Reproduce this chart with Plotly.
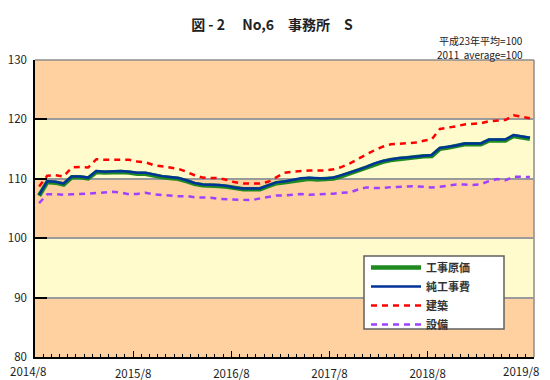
import plotly.graph_objects as go

# ---------------- data ----------------
months = [f"{2014 + (7 + i) // 12}/{(7 + i) % 12 + 1}" for i in range(61)]  # 2014/8 ... 2019/8

koji_genka = [  # 工事原価
    107.15, 109.45, 109.35, 109.05, 110.25, 110.25, 110.05, 111.15, 111.05, 111.15,
    111.15, 111.05, 110.85, 110.85, 110.55, 110.3, 110.15, 110.0, 109.6, 109.15,
    108.9, 108.9, 108.8, 108.65, 108.35, 108.23, 108.23, 108.25, 108.75, 109.25,
    109.4, 109.65, 109.95, 110.02, 109.9, 109.9, 110.05, 110.45, 110.95, 111.35,
    111.85, 112.45, 112.85, 113.15, 113.35, 113.45, 113.6, 113.8, 113.85, 115.05,
    115.25, 115.45, 115.8, 115.8, 115.8, 116.45, 116.5, 116.45, 117.2, 116.95,
    116.75,
]
jun_kojihi = [  # 純工事費
    107.3, 109.6, 109.5, 109.2, 110.4, 110.4, 110.2, 111.3, 111.2, 111.3,
    111.3, 111.2, 111.0, 111.0, 110.7, 110.45, 110.3, 110.15, 109.75, 109.3,
    109.05, 109.05, 108.94, 108.8, 108.5, 108.38, 108.38, 108.38, 108.9, 109.4,
    109.55, 109.8, 110.1, 110.17, 110.06, 110.06, 110.2, 110.6, 111.1, 111.5,
    112.0, 112.6, 113.0, 113.3, 113.5, 113.6, 113.75, 113.95, 114.0, 115.2,
    115.4, 115.6, 115.95, 115.95, 115.95, 116.6, 116.65, 116.6, 117.35, 117.1,
    116.9,
]
kenchiku = [  # 建築
    108.7, 110.5, 110.6, 110.4, 111.9, 112.0, 111.9, 113.3, 113.2, 113.2,
    113.25, 113.2, 112.9, 112.8, 112.3, 112.1, 111.9, 111.7, 111.2, 110.6,
    110.2, 110.2, 110.1, 109.8, 109.4, 109.2, 109.2, 109.2, 109.5, 110.3,
    111.0, 111.2, 111.35, 111.4, 111.4, 111.4, 111.6, 112.0, 112.6, 113.4,
    114.1, 114.8, 115.4, 115.8, 115.9, 115.95, 116.1, 116.4, 116.65, 118.4,
    118.6, 118.85, 119.15, 119.3, 119.35, 119.7, 119.85, 119.9, 120.7, 120.45,
    120.2,
]
setsubi = [  # 設備
    105.9, 107.4, 107.4, 107.3, 107.4, 107.4, 107.5, 107.6, 107.7, 107.8,
    107.7, 107.4, 107.45, 107.65, 107.4, 107.25, 107.15, 107.05, 107.1, 106.9,
    106.85, 106.8, 106.6, 106.55, 106.5, 106.55, 106.4, 106.7, 107.0, 107.2,
    107.2, 107.35, 107.45, 107.3, 107.35, 107.4, 107.5, 107.65, 107.7, 108.2,
    108.55, 108.45, 108.45, 108.6, 108.65, 108.7, 108.75, 108.65, 108.55, 108.65,
    108.8, 109.05, 109.05, 108.95, 109.1, 109.6, 109.95, 109.75, 110.35, 110.35,
    110.3,
]

series_names = ["工事原価", "純工事費", "建築", "設備"]
year_labels = ["2014/8", "2015/8", "2016/8", "2017/8", "2018/8", "2019/8"]
y_ticks = [80, 90, 100, 110, 120, 130]

# ---------------- figure ----------------
x = list(range(len(months)))
FONT = "Noto Sans CJK JP"
ORANGE = "#FFD0A0"
YELLOW = "#FFFBCC"
OFF = 8                      # page body margin of the browser
FW, FH = 550 - OFF, 380 - OFF
L, R, T, B = 35 - OFF, 16, 60 - OFF, 23
PW, PH = FW - L - R, FH - T - B


def px_x(px):  # screen x (reference picture) -> plot-area fraction
    return (px - 35) / PW


def px_y(py):  # screen y (reference picture) -> plot-area fraction
    return 1 - (py - 60) / PH


fig = go.Figure()
styles = [
    dict(color="#1F8A1F", width=4.5),
    dict(color="#003399", width=2.5),
    dict(color="#FF0000", width=2.5, dash="6px,5px"),
    dict(color="#A040FF", width=2.5, dash="6px,5px"),
]
for name, vals, st in zip(series_names, [koji_genka, jun_kojihi, kenchiku, setsubi], styles):
    fig.add_trace(go.Scatter(x=x, y=vals, name=name, mode="lines", line=st,
                             text=months, hovertemplate="%{text}: %{y}<extra>" + name + "</extra>"))

shapes = []
for lo, hi in [(90, 100), (110, 120)]:
    shapes.append(dict(type="rect", xref="paper", yref="y", x0=0, x1=1, y0=lo, y1=hi,
                       fillcolor=YELLOW, line=dict(width=0), layer="below"))
# top and right frame
shapes.append(dict(type="line", xref="paper", yref="paper", x0=0, x1=1, y0=1, y1=1,
                   line=dict(color="#8c8c8c", width=1.5), layer="between"))
shapes.append(dict(type="line", xref="paper", yref="paper", x0=1, x1=1, y0=0, y1=1,
                   line=dict(color="#8c8c8c", width=1.5), layer="between"))
# legend box
shapes.append(dict(type="rect", xref="paper", yref="paper",
                   x0=px_x(364), x1=px_x(504), y0=px_y(329), y1=px_y(256),
                   fillcolor="white", line=dict(color="#606060", width=1.5), layer="above"))

annotations = [
    dict(text="平成23年平均=100", xref="paper", yref="paper",
         x=px_x(525), y=px_y(40.5), xanchor="right", yanchor="middle",
         showarrow=False, font=dict(size=10, color="#222")),
    dict(text="2011  average=100", xref="paper", yref="paper",
         x=px_x(525), y=px_y(55), xanchor="right", yanchor="middle",
         showarrow=False, font=dict(size=10, color="#222")),
    dict(text=year_labels[0], xref="paper", yref="paper", x=px_x(28), y=px_y(371),
         xanchor="center", yanchor="middle", showarrow=False, font=dict(size=11.5, color="#222")),
    dict(text=year_labels[-1], xref="paper", yref="paper", x=px_x(521), y=px_y(371),
         xanchor="center", yanchor="middle", showarrow=False, font=dict(size=11.5, color="#222")),
]

fig.update_layout(
    width=FW, height=FH,
    margin=dict(l=L, r=R, t=T, b=B, autoexpand=False),
    paper_bgcolor="white", plot_bgcolor=ORANGE,
    font=dict(family=FONT, size=12, color="#222"),
    title=dict(text="図 - 2\u3000\u00a0No,6\u3000事務所\u3000S", xref="container",
               x=(272 - OFF) / FW, xanchor="center", y=1 - (25 - OFF) / FH, yanchor="middle",
               font=dict(size=14, color="#222", weight="bold")),
    shapes=shapes, annotations=annotations,
    showlegend=True,
    legend=dict(x=px_x(366), y=px_y(253), xanchor="left", yanchor="top",
                bgcolor="rgba(0,0,0,0)", borderwidth=0, itemwidth=50, tracegroupgap=0,
                font=dict(size=11, color="#333", weight="bold")),
    xaxis=dict(range=[-0.5, 60.5], showgrid=False, zeroline=False, automargin=False,
               showline=True, linecolor="black", linewidth=1.5,
               ticks="inside", ticklen=6, tickwidth=1, tickcolor="black",
               tickmode="array", tickvals=[11.5, 23.5, 35.5, 47.5, 60.5],
               ticktext=year_labels[1:5] + [""], ticklabelstandoff=5,
               minor=dict(ticks="inside", ticklen=3, tickwidth=1, tickcolor="black",
                          tick0=-0.5, dtick=1, showgrid=False),
               tickfont=dict(size=11.5, color="#222")),
    yaxis=dict(range=[80, 130], tickmode="array", tickvals=y_ticks, showgrid=True, automargin=False,
               gridcolor="#9a9a9a", gridwidth=1.5, zeroline=False,
               showline=True, linecolor="black", linewidth=1.5,
               ticks="inside", ticklen=12, tickwidth=1.5, tickcolor="black",
               ticklabelstandoff=4, tickfont=dict(size=11.5, color="#222")),
)

fig.write_html("out.html")
